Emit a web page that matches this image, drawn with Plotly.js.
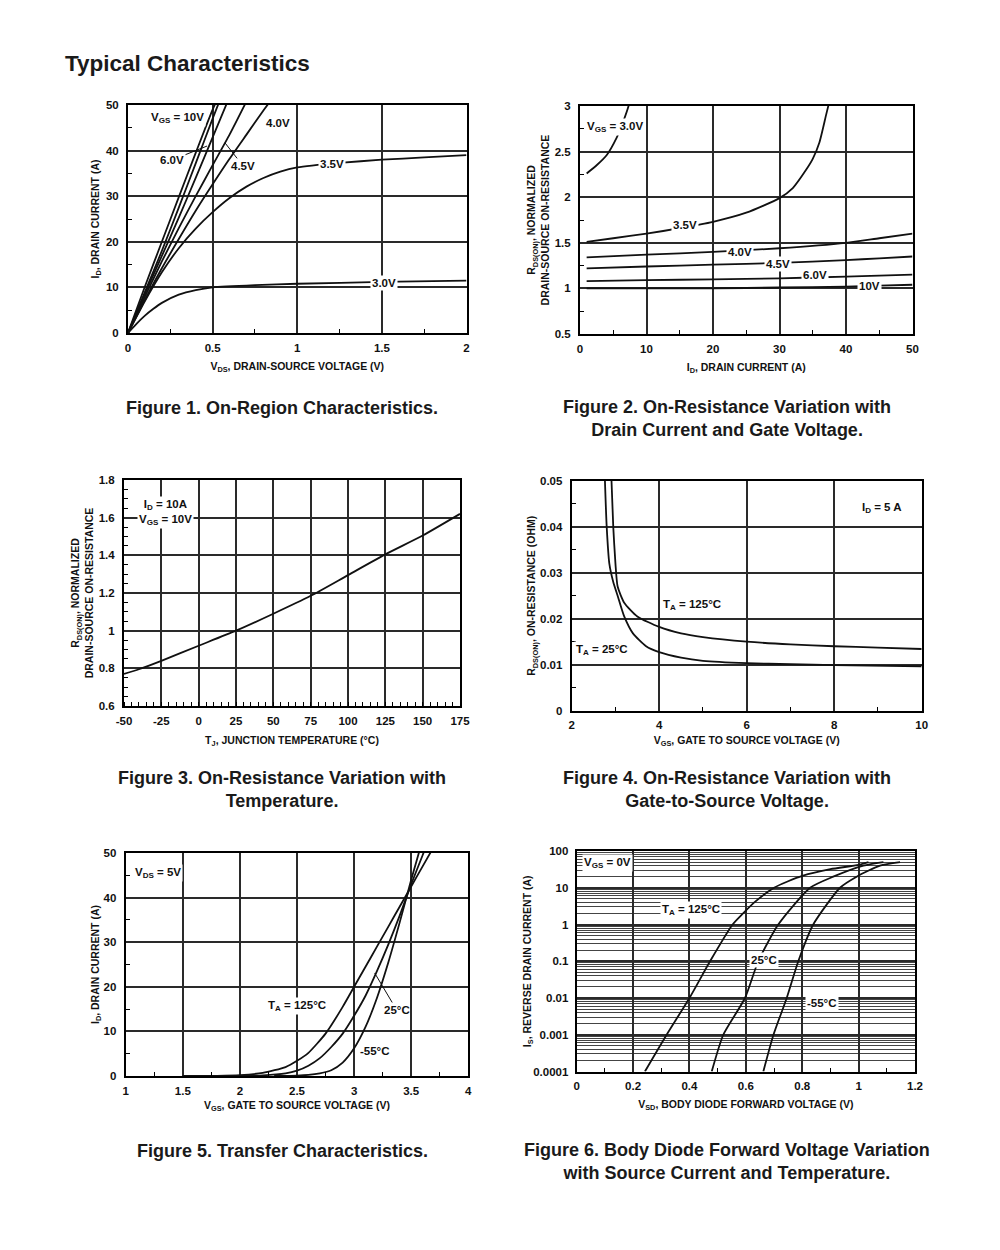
<!DOCTYPE html>
<html><head><meta charset="utf-8">
<script src="https://cdn.plot.ly/plotly-3.0.1.min.js"></script>
<style>html,body{margin:0;padding:0;background:#fff}#chart{width:1000px;height:1250px}</style>
</head><body><div id="chart"></div>
<script>
// ---------- Figure 1: On-Region Characteristics ----------
const f1_vds_10V = [0, 0.1, 0.2, 0.3, 0.4, 0.5, 0.55];
const f1_id_10V  = [0, 10.2, 20, 29.8, 39.5, 49, 53];
const f1_vds_6V  = [0, 0.1, 0.2, 0.3, 0.4, 0.5, 0.6];
const f1_id_6V   = [0, 9, 18, 27.5, 37.2, 47, 56.5];
const f1_vds_5V  = [0, 0.1, 0.2, 0.3, 0.4, 0.5, 0.6];
const f1_id_5V   = [0, 8.6, 16.9, 25.3, 34, 42.9, 51.8];
const f1_vds_45V = [0, 0.1, 0.2, 0.3, 0.4, 0.5, 0.6, 0.7];
const f1_id_45V  = [0, 8, 15.7, 23, 30, 36.8, 43.5, 50.8];
const f1_vds_4V  = [0, 0.1, 0.2, 0.3, 0.4, 0.5, 0.6, 0.7, 0.8, 0.85];
const f1_id_4V   = [0, 7.3, 14.2, 20.6, 26.8, 32.6, 38.2, 43.5, 48.8, 51.3];
const f1_vds_35V = [0, 0.1, 0.2, 0.3, 0.4, 0.5, 0.6, 0.7, 0.8, 0.9, 1.0, 1.25, 1.5, 1.75, 2.0];
const f1_id_35V  = [0, 7, 13.3, 18.6, 22.9, 26.5, 29.6, 32.1, 34, 35.4, 36.3, 37.3, 38, 38.5, 39];
const f1_vds_3V  = [0, 0.05, 0.1, 0.15, 0.2, 0.3, 0.4, 0.5, 0.75, 1, 1.5, 2];
const f1_id_3V   = [0, 2, 3.8, 5.3, 6.6, 8.4, 9.4, 10, 10.5, 10.8, 11.2, 11.5];

// ---------- Figure 2: On-Resistance vs Drain Current ----------
const f2_id_3V   = [1, 2.5, 4, 5.5, 6.5, 7.3, 7.6];
const f2_r_3V    = [2.26, 2.35, 2.46, 2.65, 2.83, 3.0, 3.1];
const f2_id_35V  = [1, 5, 10, 15, 20, 25, 30, 32, 34, 35, 36, 37, 37.5];
const f2_r_35V   = [1.51, 1.55, 1.6, 1.66, 1.73, 1.83, 1.99, 2.1, 2.3, 2.42, 2.6, 2.9, 3.05];
const f2_id      = [1, 10, 20, 30, 40, 45, 50];
const f2_r_4V    = [1.34, 1.37, 1.4, 1.44, 1.5, 1.55, 1.6];
const f2_r_45V   = [1.22, 1.24, 1.26, 1.28, 1.31, 1.33, 1.35];
const f2_r_6V    = [1.08, 1.09, 1.1, 1.11, 1.13, 1.14, 1.15];
const f2_r_10V   = [1.0, 1.0, 1.0, 1.01, 1.02, 1.03, 1.04];

// ---------- Figure 3: On-Resistance vs Temperature ----------
const f3_tj = [-50, -40, -25, 0, 25, 50, 75, 100, 125, 150, 175];
const f3_r  = [0.77, 0.795, 0.84, 0.92, 1.0, 1.09, 1.185, 1.295, 1.405, 1.505, 1.62];
const f3_xtickvals = [-50, -25, 0, 25, 50, 75, 100, 125, 150, 175];
const f3_xticktext = ['-50', '-25', '0', '25', '50', '75', '100', '125', '150', '175'];

// ---------- Figure 4: On-Resistance vs Gate-to-Source Voltage ----------
const f4_vgs_25  = [2.76, 2.8, 2.86, 2.95, 3.05, 3.2, 3.4, 3.7, 4, 4.5, 5, 6, 7, 8, 10];
const f4_r_25    = [0.05, 0.04, 0.032, 0.028, 0.025, 0.0205, 0.0168, 0.014, 0.0127, 0.0115, 0.0108, 0.0103, 0.0101, 0.0099, 0.0096];
const f4_vgs_125 = [2.91, 2.95, 3.0, 3.05, 3.2, 3.5, 4, 4.5, 5, 6, 7, 8, 9, 10];
const f4_r_125   = [0.05, 0.04, 0.032, 0.027, 0.0235, 0.0205, 0.0182, 0.0168, 0.016, 0.015, 0.0144, 0.014, 0.0137, 0.0134];

// ---------- Figure 5: Transfer Characteristics ----------
const f5_vgs_125 = [1.5, 1.8, 2.0, 2.2, 2.4, 2.5, 2.6, 2.75, 2.9, 3.0, 3.1, 3.2, 3.3, 3.4, 3.5, 3.6, 3.7];
const f5_id_125  = [0, 0.05, 0.2, 0.7, 2.0, 3.4, 5.2, 9.5, 15.5, 20, 24.5, 29, 33.5, 38, 42.5, 47, 51.5];
const f5_vgs_25  = [2.0, 2.2, 2.4, 2.5, 2.6, 2.7, 2.8, 2.9, 3.0, 3.1, 3.2, 3.3, 3.4, 3.5, 3.6, 3.65];
const f5_id_25   = [0.02, 0.15, 0.6, 1.2, 2.3, 4.0, 6.5, 9.5, 13.5, 18, 23.5, 29.5, 36, 43, 49.5, 53];
const f5_vgs_m55 = [2.3, 2.5, 2.6, 2.7, 2.8, 2.9, 3.0, 3.1, 3.2, 3.3, 3.4, 3.5, 3.6];
const f5_id_m55  = [0.01, 0.1, 0.25, 0.6, 1.3, 3.0, 6.2, 11, 17.5, 25.5, 34.5, 44, 53];

// ---------- Figure 6: Body Diode Forward Voltage ----------
const f6_vsd_125 = [0.242, 0.319, 0.40, 0.473, 0.553, 0.59, 0.63, 0.70, 0.75, 0.8, 0.9, 1.0, 1.035];
const f6_is_125  = [1e-4, 1e-3, 1e-2, 0.1, 1, 2, 4, 10, 15, 21, 32, 42, 50];
const f6_vsd_25  = [0.479, 0.52, 0.597, 0.644, 0.715, 0.828, 0.91, 1.017, 1.088];
const f6_is_25   = [1e-4, 1e-3, 1e-2, 0.1, 1, 10, 20, 40, 50];
const f6_vsd_m55 = [0.662, 0.698, 0.745, 0.786, 0.839, 0.934, 0.993, 1.076, 1.147];
const f6_is_m55  = [1e-4, 1e-3, 1e-2, 0.1, 1, 10, 20, 40, 50];
const f6_ytickvals = [0.0001, 0.001, 0.01, 0.1, 1, 10, 100];
const f6_yticktext = ['0.0001', '0.001', '0.01', '0.1', '1', '10', '100'];

// ---------- Text ----------
const pageTitle = 'Typical Characteristics';
const captions = [
  'Figure 1. On-Region Characteristics.',
  'Figure 2. On-Resistance Variation with<br>Drain Current and Gate Voltage.',
  'Figure 3. On-Resistance Variation with<br>Temperature.',
  'Figure 4. On-Resistance Variation with<br>Gate-to-Source Voltage.',
  'Figure 5. Transfer Characteristics.',
  'Figure 6. Body Diode Forward Voltage Variation<br>with Source Current and Temperature.'
];

const FAM = '"Liberation Sans", Arial, Helvetica, sans-serif';
const TF = {family: FAM, size: 11.5, color: '#111', weight: 'bold'};
const LBL = {family: FAM, size: 11.5, color: '#111', weight: 'bold'};
const AT = {family: FAM, size: 10.5, color: '#111', weight: 'bold'};

function line(x, y, xa, ya) {
  return {type: 'scatter', mode: 'lines', x: x, y: y, xaxis: xa, yaxis: ya,
    line: {color: '#111', width: 1.8, shape: 'spline', smoothing: 0.6},
    showlegend: false, hoverinfo: 'skip'};
}

function ax(domain, range, dtick, minorDtick, anchor, title, standoff, isX) {
  return {domain: domain, range: range, dtick: dtick, tick0: 0, anchor: anchor,
    title: {text: title, font: AT, standoff: standoff},
    showline: true, mirror: true, linecolor: '#000', linewidth: 2,
    showgrid: true, gridcolor: '#2a2a2a', gridwidth: 2, zeroline: false,
    ticks: '', ticklabelstandoff: isX ? 3 : 5, tickfont: TF, fixedrange: true, automargin: false,
    minor: {dtick: minorDtick, tick0: 0, ticks: 'inside', ticklen: 4, tickcolor: '#000', tickwidth: 1, showgrid: false}};
}

const W = 1000, H = 1250;
const px = v => v / W;
const py = v => 1 - v / H;

const traces = [
  line(f1_vds_10V, f1_id_10V, 'x', 'y'),
  line(f1_vds_6V, f1_id_6V, 'x', 'y'),
  line(f1_vds_5V, f1_id_5V, 'x', 'y'),
  line(f1_vds_45V, f1_id_45V, 'x', 'y'),
  line(f1_vds_4V, f1_id_4V, 'x', 'y'),
  line(f1_vds_35V, f1_id_35V, 'x', 'y'),
  line(f1_vds_3V, f1_id_3V, 'x', 'y'),

  line(f2_id_3V, f2_r_3V, 'x2', 'y2'),
  line(f2_id_35V, f2_r_35V, 'x2', 'y2'),
  line(f2_id, f2_r_4V, 'x2', 'y2'),
  line(f2_id, f2_r_45V, 'x2', 'y2'),
  line(f2_id, f2_r_6V, 'x2', 'y2'),
  line(f2_id, f2_r_10V, 'x2', 'y2'),

  line(f3_tj, f3_r, 'x3', 'y3'),

  line(f4_vgs_25, f4_r_25, 'x4', 'y4'),
  line(f4_vgs_125, f4_r_125, 'x4', 'y4'),

  line(f5_vgs_125, f5_id_125, 'x5', 'y5'),
  line(f5_vgs_25, f5_id_25, 'x5', 'y5'),
  line(f5_vgs_m55, f5_id_m55, 'x5', 'y5'),

  line(f6_vsd_125, f6_is_125, 'x6', 'y6'),
  line(f6_vsd_25, f6_is_25, 'x6', 'y6'),
  line(f6_vsd_m55, f6_is_m55, 'x6', 'y6')
];

const layout = {
  width: W, height: H, margin: {l: 0, r: 0, t: 0, b: 0},
  paper_bgcolor: '#fff', plot_bgcolor: '#fff', showlegend: false,
  font: {family: FAM, size: 11, color: '#111'},
  title: {text: pageTitle, x: px(65), xanchor: 'left', xref: 'paper', y: py(63), yanchor: 'middle', yref: 'paper',
          font: {family: FAM, size: 22.5, color: '#1a1a1a', weight: 'bold'}},
  xaxis:  ax([px(128), px(466.5)], [0, 2], 0.5, 0.25, 'y', 'V<sub>DS</sub>, DRAIN-SOURCE VOLTAGE (V)', 10, true),
  yaxis:  ax([py(333), py(105)], [0, 50], 10, 5, 'x', 'I<sub>D</sub>, DRAIN CURRENT (A)', 4, false),
  xaxis2: ax([px(580), px(912.5)], [0, 50], 10, 5, 'y2', 'I<sub>D</sub>, DRAIN CURRENT (A)', 10, true),
  yaxis2: ax([py(334), py(106)], [0.5, 3], 0.5, 0.25, 'x2', 'R<sub>DS(ON)</sub>, NORMALIZED<br>DRAIN-SOURCE ON-RESISTANCE', 3, false),
  xaxis3: Object.assign(ax([px(124), px(460)], [-50, 175], 25, 5, 'y3', 'T<sub>J</sub>, JUNCTION TEMPERATURE (°C)', 11, true),
          {tickmode: 'array', tickvals: f3_xtickvals, ticktext: f3_xticktext}),
  yaxis3: ax([py(706), py(480)], [0.6, 1.8], 0.2, 0.05, 'x3', 'R<sub>DS(ON)</sub>, NORMALIZED<br>DRAIN-SOURCE ON-RESISTANCE', 3, false),
  xaxis4: ax([px(571.7), px(921.7)], [2, 10], 2, 1, 'y4', 'V<sub>GS</sub>, GATE TO SOURCE VOLTAGE (V)', 6, true),
  yaxis4: ax([py(710.5), py(481)], [0, 0.05], 0.01, 0.005, 'x4', 'R<sub>DS(ON)</sub>, ON-RESISTANCE (OHM)', 2, false),
  xaxis5: ax([px(125.7), px(468.3)], [1, 4], 0.5, 0.25, 'y5', 'V<sub>GS</sub>, GATE TO SOURCE VOLTAGE (V)', 6, true),
  yaxis5: ax([py(1076), py(853)], [0, 50], 10, 5, 'x5', 'I<sub>D</sub>, DRAIN CURRENT (A)', 2, false),
  xaxis6: ax([px(576.7), px(915)], [0, 1.2], 0.2, 0.1, 'y6', 'V<sub>SD</sub>, BODY DIODE FORWARD VOLTAGE (V)', 9, true),
  yaxis6: Object.assign(ax([py(1071.5), py(851)], [-4, 2], null, null, 'x6', 'I<sub>S</sub>, REVERSE DRAIN CURRENT (A)', 0, false), {
    type: 'log', tickvals: f6_ytickvals, ticktext: f6_yticktext, tickmode: 'array', ticklabelstandoff: 4,
    minor: {dtick: 'D1', showgrid: true, gridcolor: '#444', gridwidth: 1, ticks: ''}
  }),
  annotations: []
};
delete layout.yaxis6.dtick; delete layout.yaxis6.tick0;
delete layout.xaxis3.dtick; delete layout.xaxis3.tick0;

const A = layout.annotations;
function txt(x, y, text, xref, yref, opts) {
  A.push(Object.assign({x: x, y: y, xref: xref, yref: yref, text: text, showarrow: false,
    font: LBL, xanchor: 'center', yanchor: 'middle'}, opts || {}));
}
function ptxt(xp, yp, text, opts) { txt(px(xp), py(yp), text, 'paper', 'paper', opts); }

// captions
const capFont = {family: FAM, size: 18, color: '#1a1a1a', weight: 'bold'};
ptxt(282, 408, captions[0], {font: capFont});
ptxt(727, 418.5, captions[1], {font: capFont});
ptxt(282, 789.5, captions[2], {font: capFont});
ptxt(727, 789.5, captions[3], {font: capFont});
ptxt(282, 1151, captions[4], {font: capFont});
ptxt(727, 1161, captions[5], {font: capFont});

const WB = {bgcolor: '#fff', borderpad: 1};
const ARR = {showarrow: true, arrowhead: 0, arrowwidth: 1, arrowcolor: '#111', standoff: 0};
// Figure 1 labels
txt(0.295, 47.1, 'V<sub>GS</sub> = 10V', 'x', 'y', WB);
txt(0.886, 46, '4.0V', 'x', 'y', WB);
txt(1.205, 37.1, '3.5V', 'x', 'y', WB);
txt(1.513, 11, '3.0V', 'x', 'y', WB);
txt(0.467, 41, '6.0V', 'x', 'y', Object.assign({ax: -35, ay: 14}, ARR));
txt(0.573, 41.7, '4.5V', 'x', 'y', Object.assign({ax: 18, ay: 23}, ARR));
// Figure 2 labels
txt(5.26, 2.77, 'V<sub>GS</sub> = 3.0V', 'x2', 'y2', WB);
txt(15.8, 1.695, '3.5V', 'x2', 'y2', WB);
txt(24.06, 1.40, '4.0V', 'x2', 'y2', WB);
txt(29.8, 1.27, '4.5V', 'x2', 'y2', WB);
txt(35.3, 1.147, '6.0V', 'x2', 'y2', WB);
txt(43.6, 1.026, '10V', 'x2', 'y2', WB);
// Figure 3 labels
txt(-22.5, 1.63, 'I<sub>D</sub> = 10A<br>V<sub>GS</sub> = 10V', 'x3', 'y3', WB);
// Figure 4 labels
txt(9.09, 0.0441, 'I<sub>D</sub> = 5 A', 'x4', 'y4', WB);
txt(4.75, 0.023, 'T<sub>A</sub> = 125°C', 'x4', 'y4', WB);
txt(2.69, 0.0132, 'T<sub>A</sub> = 25°C', 'x4', 'y4', WB);
// Figure 5 labels
txt(1.283, 45.5, 'V<sub>DS</sub> = 5V', 'x5', 'y5', WB);
txt(2.5, 15.7, 'T<sub>A</sub> = 125°C', 'x5', 'y5', WB);
txt(3.18, 23.1, '25°C', 'x5', 'y5', Object.assign({ax: 22, ay: 37}, ARR));
txt(3.18, 5.6, '-55°C', 'x5', 'y5', WB);
// Figure 6 labels (log axis -> log10 of value)
txt(0.111, Math.log10(47), 'V<sub>GS</sub> = 0V', 'x6', 'y6', WB);
txt(0.406, Math.log10(2.48), 'T<sub>A</sub> = 125°C', 'x6', 'y6', WB);
txt(0.664, Math.log10(0.108), '25°C', 'x6', 'y6', WB);
txt(0.870, Math.log10(0.0073), '-55°C', 'x6', 'y6', WB);

Plotly.newPlot('chart', traces, layout, {displayModeBar: false});
</script>
</body></html>
